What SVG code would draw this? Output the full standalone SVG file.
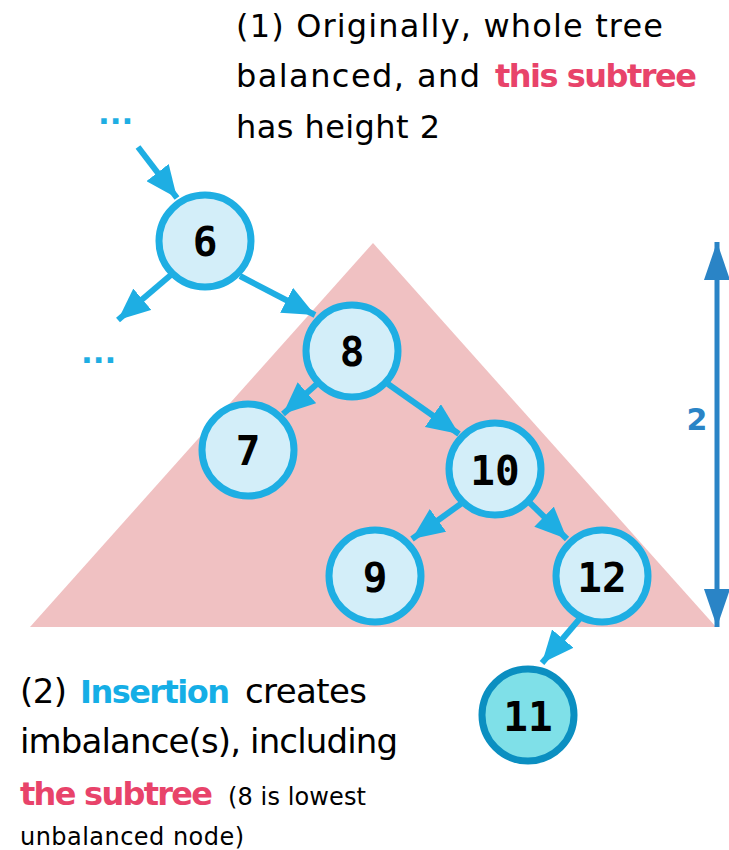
<svg xmlns="http://www.w3.org/2000/svg" width="729" height="850" viewBox="0 0 729 850">
<style>
.t{font-family:"DejaVu Sans","Liberation Sans",sans-serif;fill:#000}
.pink{fill:#e8436a;font-weight:bold}
.cyan{fill:#15aee6;font-weight:bold}
.node circle{fill:#d3eef9;stroke:#1eaee3;stroke-width:7}
.node text{font-family:"DejaVu Sans Mono","Liberation Mono",monospace;font-weight:bold;font-size:41px;text-anchor:middle;fill:#000}
#n11 circle{fill:#7fe0e8;stroke:#0b8fc1}
.edge{stroke:#1eaee3;stroke-width:6;fill:none;marker-end:url(#ah)}
.dots{font-family:"DejaVu Sans",sans-serif;font-weight:bold;font-size:31px;fill:#1eaee3}
</style>
<defs>
<marker id="ah" viewBox="0 0 32 28" refX="32" refY="14" markerWidth="32" markerHeight="28" markerUnits="userSpaceOnUse" orient="auto">
<path d="M0,0 L32,14 L0,28 z" fill="#1eaee3"/>
</marker>
<marker id="dh" viewBox="0 0 38 26" refX="38" refY="13" markerWidth="38" markerHeight="26" markerUnits="userSpaceOnUse" orient="auto-start-reverse">
<path d="M0,0 L38,13 L0,26 z" fill="#2a84c6"/>
</marker>
</defs>
<rect width="729" height="850" fill="#fff"/>
<polygon id="subtree" points="373,243 30,627 716,627" fill="#f0c1c2"/>
<g id="height">
<line x1="717" y1="242" x2="717" y2="627" stroke="#2a84c6" stroke-width="5" marker-start="url(#dh)" marker-end="url(#dh)"/>
<text x="697" y="430" font-family="DejaVu Sans,sans-serif" font-weight="bold" font-size="30" fill="#2a84c6" text-anchor="middle">2</text>
</g>
<g id="connectors">
<line class="edge" x1="138" y1="147" x2="177" y2="198"/>
<line class="edge" x1="172" y1="274" x2="118" y2="320"/>
<line class="edge" x1="240" y1="276" x2="315" y2="315"/>
<line class="edge" x1="318" y1="383" x2="283" y2="414"/>
<line class="edge" x1="388" y1="384" x2="459" y2="434"/>
<line class="edge" x1="462" y1="503" x2="412" y2="539"/>
<line class="edge" x1="530" y1="503" x2="567" y2="539"/>
<line class="edge" x1="582" y1="616" x2="542" y2="663"/>
</g>
<text class="dots" x="98" y="124">...</text>
<text class="dots" x="81" y="363">...</text>
<g id="n6" class="node"><circle cx="205" cy="241" r="46"/><text x="205" y="256">6</text></g>
<g id="n8" class="node"><circle cx="352" cy="351" r="46"/><text x="352" y="366">8</text></g>
<g id="n7" class="node"><circle cx="248" cy="450" r="46"/><text x="248" y="465">7</text></g>
<g id="n10" class="node"><circle cx="495" cy="469" r="46"/><text x="495" y="485">10</text></g>
<g id="n9" class="node"><circle cx="375" cy="576" r="46"/><text x="375" y="592">9</text></g>
<g id="n12" class="node"><circle cx="602" cy="576" r="46"/><text x="602" y="592">12</text></g>
<g id="n11" class="node"><circle cx="528" cy="715" r="46"/><text x="528" y="731">11</text></g>
<g id="note1" class="t" font-size="32">
<text class="t" x="236" y="37" textLength="427" lengthAdjust="spacing">(1) Originally, whole tree</text>
<text class="t" x="236" y="87" textLength="244" lengthAdjust="spacing">balanced, and</text>
<text class="t pink" x="495" y="87" textLength="202" lengthAdjust="spacing">this subtree</text>
<text class="t" x="236" y="138" textLength="204" lengthAdjust="spacing">has height 2</text>
</g>
<g id="note2" class="t" font-size="34">
<text class="t" x="20" y="703" textLength="47" lengthAdjust="spacing">(2)</text>
<text class="t cyan" x="80" y="703" font-size="32" textLength="150" lengthAdjust="spacing">Insertion</text>
<text class="t" x="245" y="703" textLength="122" lengthAdjust="spacing">creates</text>
<text class="t" x="20" y="753" textLength="378" lengthAdjust="spacing">imbalance(s), including</text>
<text class="t pink" x="20" y="805" font-size="32" textLength="193" lengthAdjust="spacing">the subtree</text>
<text class="t" x="228" y="805" font-size="24" textLength="138" lengthAdjust="spacing">(8 is lowest</text>
<text class="t" x="20" y="845" font-size="24" textLength="224" lengthAdjust="spacing">unbalanced node)</text>
</g>
</svg>
